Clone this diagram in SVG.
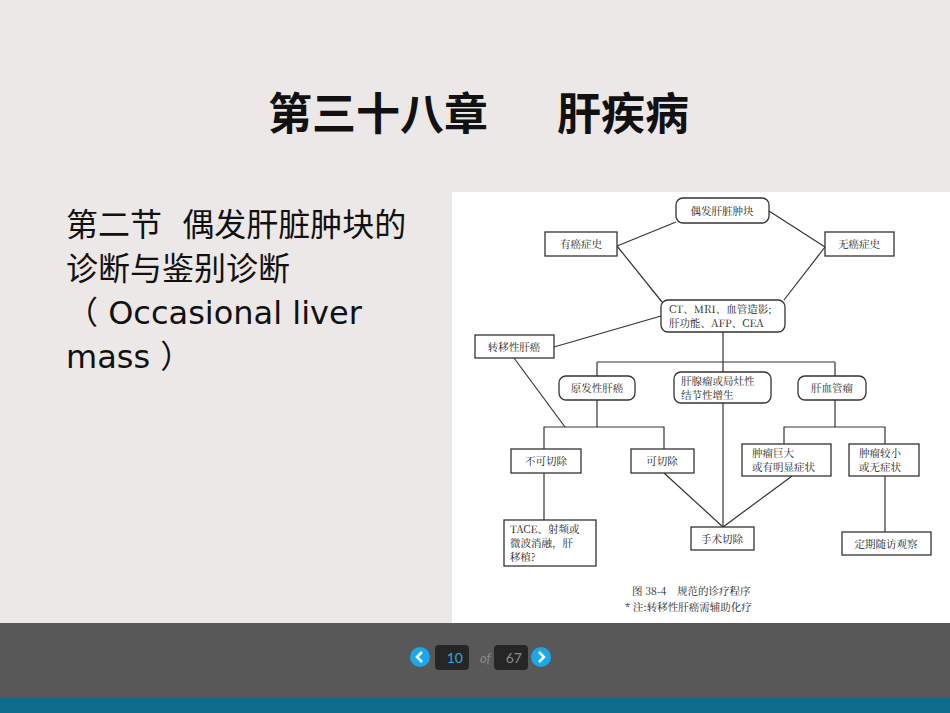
<svg xmlns="http://www.w3.org/2000/svg" width="950" height="713" viewBox="0 0 950 713">
<style>
.n rect{fill:#fff;stroke:#333;stroke-width:1.3}
.t{font-family:"Noto Serif CJK SC","Noto Sans CJK SC",serif;font-size:10.5px;fill:#222}
.c line,.c polyline{stroke:#333;stroke-width:1.2;fill:none}
.h{font-family:"DejaVu Sans","Noto Sans CJK SC",sans-serif;font-size:32px;fill:#111}
.ti{font-family:"Noto Sans CJK SC",sans-serif;font-weight:bold;font-size:44px;fill:#111}
</style>
<rect width="950" height="713" fill="#ece8e8"/>
<text class="ti" x="268" y="130">第三十八章</text>
<text class="ti" x="689" y="130" text-anchor="end">肝疾病</text>
<text class="h" x="66" y="236" xml:space="preserve">第二节  偶发肝脏肿块的</text>
<text class="h" x="66" y="280">诊断与鉴别诊断</text>
<text class="h" x="66" y="324" xml:space="preserve">（ Occasional liver</text>
<text class="h" x="66" y="368" xml:space="preserve">mass ）</text>
<rect x="452" y="192" width="498" height="431" fill="#fff"/>
<g class="c" id="connectors">
<line x1="676" y1="222" x2="617" y2="246"/><line x1="769" y1="211" x2="825" y2="247"/>
<line x1="617" y1="246" x2="662" y2="302"/><line x1="825" y1="247" x2="784" y2="300"/>
<line x1="661" y1="316" x2="554" y2="347"/>
<line x1="723" y1="332" x2="723" y2="362"/><line x1="597" y1="362" x2="835" y2="362"/>
<line x1="597" y1="362" x2="597" y2="376"/><line x1="723" y1="362" x2="723" y2="372"/><line x1="835" y1="362" x2="835" y2="376"/>
<line x1="514" y1="358" x2="565" y2="427"/>
<line x1="597" y1="400" x2="597" y2="427"/><polyline points="544,449 544,427 664,427 664,449"/>
<line x1="723" y1="403" x2="723" y2="527"/>
<line x1="664" y1="473" x2="723" y2="527"/><line x1="792" y1="476" x2="723" y2="527"/>
<line x1="835" y1="400" x2="835" y2="427"/><polyline points="784,444 784,427 885,427 885,444"/>
<line x1="885" y1="476" x2="885" y2="532"/>
<line x1="544" y1="473" x2="544" y2="520"/>
</g>
<g class="n" id="n1"><rect x="676" y="198" width="93" height="25" rx="7"/><text class="t" x="722" y="215" text-anchor="middle" font-size="12">偶发肝脏肿块</text></g>
<g class="n" id="n2"><rect x="545" y="232" width="72" height="24"/><text class="t" x="581" y="248" text-anchor="middle" font-size="12">有癌症史</text></g>
<g class="n" id="n3"><rect x="825" y="232" width="69" height="24"/><text class="t" x="859" y="248" text-anchor="middle" font-size="12">无癌症史</text></g>
<g class="n" id="n4"><rect x="661" y="300" width="124" height="32" rx="7"/><text class="t" x="669" y="313">CT、MRI、血管造影;</text><text class="t" x="669" y="327">肝功能、AFP、CEA</text></g>
<g class="n" id="n5"><rect x="475" y="335" width="79" height="23"/><text class="t" x="514" y="351" text-anchor="middle" font-size="12">转移性肝癌</text></g>
<g class="n" id="n6"><rect x="559" y="376" width="76" height="24" rx="7"/><text class="t" x="597" y="392" text-anchor="middle" font-size="12">原发性肝癌</text></g>
<g class="n" id="n7"><rect x="674" y="372" width="97" height="31" rx="7"/><text class="t" x="681" y="385">肝腺瘤或局灶性</text><text class="t" x="681" y="399">结节性增生</text></g>
<g class="n" id="n8"><rect x="798" y="376" width="68" height="24" rx="7"/><text class="t" x="832" y="392" text-anchor="middle" font-size="12">肝血管瘤</text></g>
<g class="n" id="n9"><rect x="511" y="449" width="70" height="24"/><text class="t" x="546" y="465" text-anchor="middle" font-size="12">不可切除</text></g>
<g class="n" id="n10"><rect x="631" y="449" width="63" height="24"/><text class="t" x="662" y="465" text-anchor="middle" font-size="12">可切除</text></g>
<g class="n" id="n11"><rect x="742" y="444" width="89" height="32"/><text class="t" x="752" y="457">肿瘤巨大</text><text class="t" x="752" y="471">或有明显症状</text></g>
<g class="n" id="n12"><rect x="849" y="444" width="70" height="32"/><text class="t" x="859" y="457">肿瘤较小</text><text class="t" x="859" y="471">或无症状</text></g>
<g class="n" id="n13"><rect x="504" y="520" width="92" height="46"/><text class="t" x="510" y="533">TACE、射频或</text><text class="t" x="510" y="547">微波消融，肝</text><text class="t" x="510" y="561">移植?</text></g>
<g class="n" id="n14"><rect x="691" y="527" width="63" height="23"/><text class="t" x="722" y="543" text-anchor="middle" font-size="12">手术切除</text></g>
<g class="n" id="n15"><rect x="842" y="532" width="89" height="23"/><text class="t" x="886" y="548" text-anchor="middle" font-size="12">定期随访观察</text></g>
<text class="t" x="632" y="595" font-size="11.5" xml:space="preserve">图 38-4    规范的诊疗程序</text>
<text class="t" x="625" y="611" font-size="11">* 注:转移性肝癌需辅助化疗</text>
<rect x="0" y="623" width="950" height="75" fill="#585858"/>
<rect x="0" y="697" width="950" height="16" fill="#0d6d8b"/>
<circle cx="420" cy="657" r="10" fill="#1aa8ea"/><path d="M422,652 L417,657 L422,662" stroke="#fff" stroke-width="2.5" fill="none"/>
<rect x="435" y="645" width="34" height="25" rx="4" fill="#262626"/><text x="463" y="663" text-anchor="end" font-family="Lato,sans-serif" font-size="14" fill="#2aa9e0">10</text>
<text x="480" y="663" font-family="Lato,sans-serif" font-style="italic" font-size="13" fill="#8a8a8a">of</text>
<rect x="494" y="645" width="34" height="25" rx="4" fill="#262626"/><text x="522" y="663" text-anchor="end" font-family="Lato,sans-serif" font-size="14" fill="#8a8a8a">67</text>
<circle cx="541" cy="657" r="10" fill="#1aa8ea"/><path d="M539,652 L544,657 L539,662" stroke="#fff" stroke-width="2.5" fill="none"/>
</svg>
